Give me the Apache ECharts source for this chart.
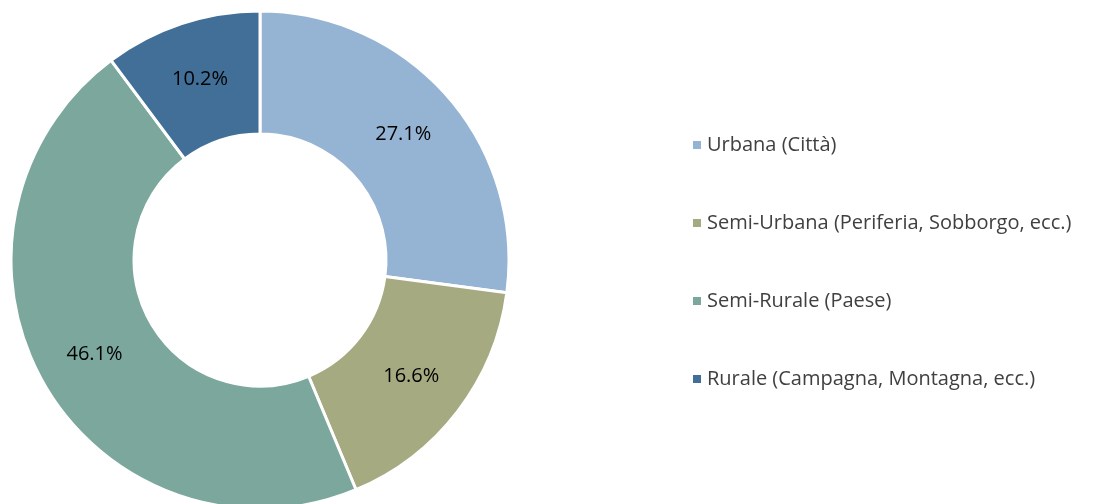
<!DOCTYPE html>
<html>
<head>
<meta charset="utf-8">
<script src="https://cdn.jsdelivr.net/npm/echarts@6/dist/echarts.min.js"></script>
<style>
html,body{margin:0;padding:0;background:#fff;}
#chart{width:1095px;height:504px;}
</style>
</head>
<body>
<div id="chart"></div>
<script>
const categories = ["Urbana (Città)", "Semi-Urbana (Periferia, Sobborgo, ecc.)", "Semi-Rurale (Paese)", "Rurale (Campagna, Montagna, ecc.)"];
const values = [27.1, 16.6, 46.1, 10.2];
const colors = ["#95B3D3", "#A5AA80", "#7BA79C", "#416F97"];

const chart = echarts.init(document.getElementById('chart'));
chart.setOption({
  animation: false,
  color: colors,
  legend: {
    orient: 'vertical',
    left: 686,
    top: 128,
    icon: 'rect',
    itemWidth: 10,
    itemHeight: 10,
    itemGap: 54,
    textStyle: { fontFamily: '"Open Sans", sans-serif', fontSize: 20, color: '#404040', lineHeight: 24 },
    data: categories
  },
  series: [{
    type: 'pie',
    center: [260, 260],
    radius: [126, 249],
    startAngle: 90,
    clockwise: true,
    avoidLabelOverlap: false,
    itemStyle: { borderColor: '#fff', borderWidth: 3 },
    label: {
      show: true,
      position: 'inside',
      formatter: p => p.value.toFixed(1) + '%',
      fontFamily: '"Open Sans", sans-serif',
      fontSize: 20,
      color: '#000'
    },
    labelLine: { show: false },
    data: categories.map((c, i) => ({ name: c, value: values[i] }))
  }]
});
</script>
</body>
</html>
